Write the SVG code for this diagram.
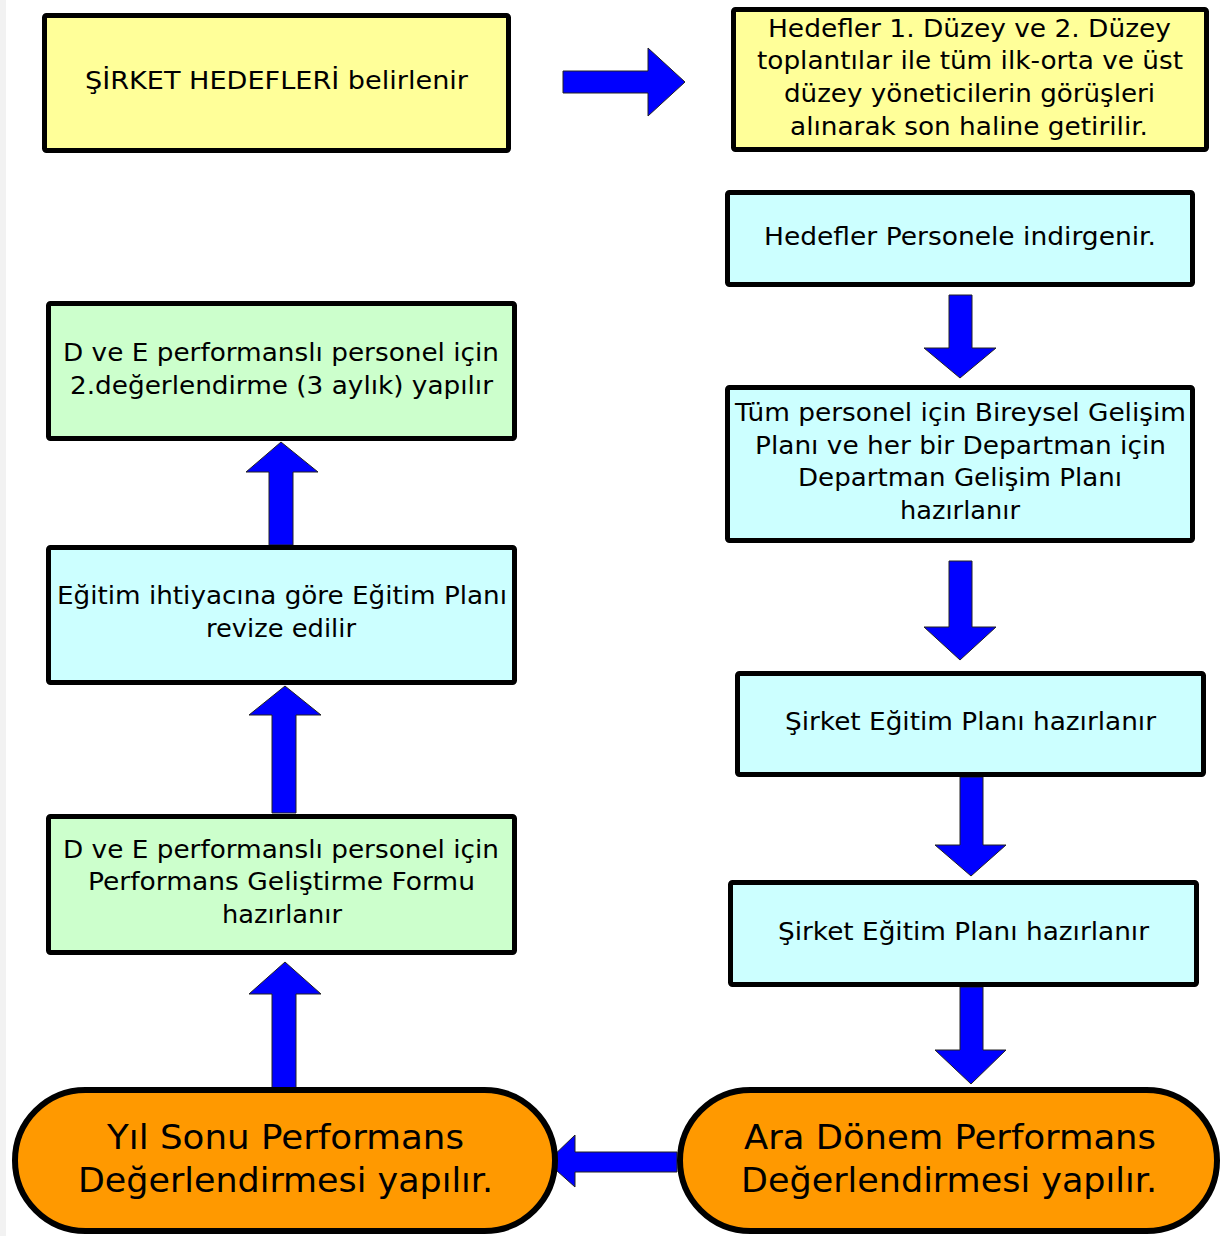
<svg xmlns="http://www.w3.org/2000/svg" width="1222" height="1236" viewBox="0 0 1222 1236">
<style>
.box{stroke:#000;stroke-width:5}
.y{fill:#ffff99}.c{fill:#ccffff}.g{fill:#ccffcc}.o{fill:#ff9900;stroke:#000;stroke-width:6}
.arr{fill:#0000ff;stroke:#222;stroke-width:1}
text{font-family:"DejaVu Sans","Verdana",sans-serif;font-size:24px;fill:#000;text-anchor:middle}
.big{font-size:34px}
</style>
<rect x="0" y="0" width="1222" height="1236" fill="#fff"/>
<rect x="0" y="0" width="6" height="1236" fill="#f2f2f2"/>
<g id="connectors">
<polygon class="arr" points="563,71 648,71 648,48 685,82 648,116 648,93 563,93"/>
<polygon class="arr" points="949,295 972,295 972,348 996,348 960,378 924,348 949,348"/>
<polygon class="arr" points="949,561 972,561 972,627 996,627 960,660 924,627 949,627"/>
<polygon class="arr" points="960,777 983,777 983,845 1006,845 971,876 935,845 960,845"/>
<polygon class="arr" points="960,987 983,987 983,1050 1006,1050 971,1084 935,1050 960,1050"/>
<polygon class="arr" points="677,1152 575,1152 575,1135 547,1162 575,1187 575,1172 677,1172"/>
<polygon class="arr" points="272,1088 296,1088 296,994 321,994 285,962 249,994 272,994"/>
<polygon class="arr" points="272,813 296,813 296,715 321,715 285,686 249,715 272,715"/>
<polygon class="arr" points="269,545 293,545 293,472 318,472 281,442 246,472 269,472"/>
</g>
<g id="n1"><rect class="box y" x="44.5" y="15.5" width="464" height="135" rx="2"/>
<text x="276.5" y="89" textLength="383" lengthAdjust="spacingAndGlyphs">ŞİRKET HEDEFLERİ belirlenir</text></g>
<g id="n2"><rect class="box y" x="733.5" y="9.5" width="473" height="140" rx="2"/>
<text x="969.5" y="37" textLength="403" lengthAdjust="spacingAndGlyphs">Hedefler 1. Düzey ve 2. Düzey</text>
<text x="970" y="69" textLength="426" lengthAdjust="spacingAndGlyphs">toplantılar ile tüm ilk-orta ve üst</text>
<text x="969.5" y="102" textLength="371" lengthAdjust="spacingAndGlyphs">düzey yöneticilerin görüşleri</text>
<text x="969" y="135" textLength="358" lengthAdjust="spacingAndGlyphs">alınarak son haline getirilir.</text></g>
<g id="n3"><rect class="box c" x="727.5" y="192.5" width="465" height="92" rx="2"/>
<text x="960" y="245" textLength="392" lengthAdjust="spacingAndGlyphs">Hedefler Personele indirgenir.</text></g>
<g id="n4"><rect class="box c" x="727.5" y="387.5" width="465" height="153" rx="2"/>
<text x="960.5" y="421" textLength="451" lengthAdjust="spacingAndGlyphs">Tüm personel için Bireysel Gelişim</text>
<text x="960.5" y="454" textLength="411" lengthAdjust="spacingAndGlyphs">Planı ve her bir Departman için</text>
<text x="960" y="486" textLength="324" lengthAdjust="spacingAndGlyphs">Departman Gelişim Planı</text>
<text x="960" y="519" textLength="120" lengthAdjust="spacingAndGlyphs">hazırlanır</text></g>
<g id="n5"><rect class="box c" x="737.5" y="673.5" width="466" height="101" rx="2"/>
<text x="970.5" y="730" textLength="371" lengthAdjust="spacingAndGlyphs">Şirket Eğitim Planı hazırlanır</text></g>
<g id="n6"><rect class="box c" x="730.5" y="882.5" width="466" height="102" rx="2"/>
<text x="963.5" y="940" textLength="371" lengthAdjust="spacingAndGlyphs">Şirket Eğitim Planı hazırlanır</text></g>
<g id="n7"><rect class="box g" x="48.5" y="303.5" width="466" height="135" rx="2"/>
<text x="281" y="361" textLength="436" lengthAdjust="spacingAndGlyphs">D ve E performanslı personel için</text>
<text x="281.5" y="394" textLength="423" lengthAdjust="spacingAndGlyphs">2.değerlendirme (3 aylık) yapılır</text></g>
<g id="n8"><rect class="box c" x="48.5" y="547.5" width="466" height="135" rx="2"/>
<text x="282" y="604" textLength="450" lengthAdjust="spacingAndGlyphs">Eğitim ihtiyacına göre Eğitim Planı</text>
<text x="281" y="637" textLength="150" lengthAdjust="spacingAndGlyphs">revize edilir</text></g>
<g id="n9"><rect class="box g" x="48.5" y="816.5" width="466" height="136" rx="2"/>
<text x="281" y="858" textLength="436" lengthAdjust="spacingAndGlyphs">D ve E performanslı personel için</text>
<text x="281.5" y="890" textLength="387" lengthAdjust="spacingAndGlyphs">Performans Geliştirme Formu</text>
<text x="282" y="923" textLength="120" lengthAdjust="spacingAndGlyphs">hazırlanır</text></g>
<g id="n10"><rect class="o" x="15" y="1090" width="540" height="141" rx="70.5"/>
<text class="big" x="285.5" y="1149" textLength="357" lengthAdjust="spacingAndGlyphs">Yıl Sonu Performans</text>
<text class="big" x="285.5" y="1192" textLength="415" lengthAdjust="spacingAndGlyphs">Değerlendirmesi yapılır.</text></g>
<g id="n11"><rect class="o" x="680" y="1090" width="537" height="141" rx="70.5"/>
<text class="big" x="950" y="1149" textLength="412" lengthAdjust="spacingAndGlyphs">Ara Dönem Performans</text>
<text class="big" x="949" y="1192" textLength="416" lengthAdjust="spacingAndGlyphs">Değerlendirmesi yapılır.</text></g>
</svg>
